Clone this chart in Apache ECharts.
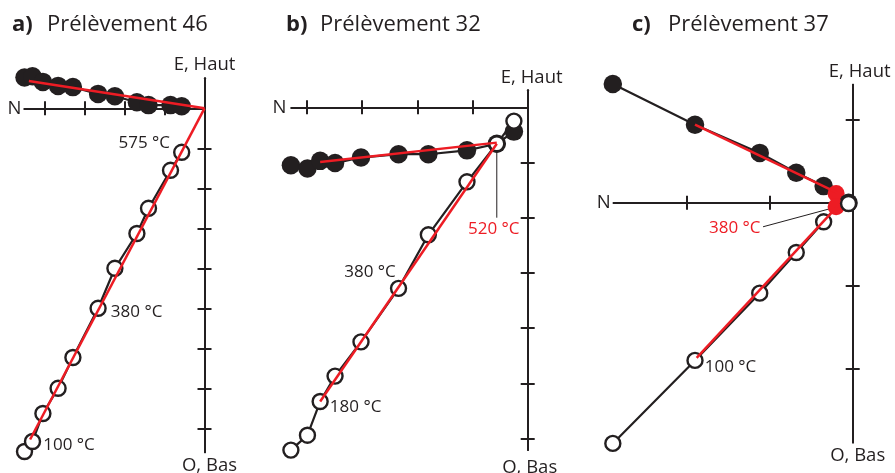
<!DOCTYPE html>
<html><head><meta charset="utf-8">
<script src="https://cdn.jsdelivr.net/npm/echarts@6/dist/echarts.min.js"></script>
<style>html,body{margin:0;padding:0;background:#fff}#c{width:895px;height:473px}</style>
</head><body><div id="c"></div>
<script>
// ---------- a) Prélèvement 46 ----------
const northA = [4.5, 4.3, 4.04, 3.66, 3.29, 2.66, 2.24, 1.69, 1.4, 0.85, 0.57];
const eastA  = [0.77, 0.8, 0.66, 0.56, 0.53, 0.36, 0.3, 0.15, 0.08, 0.08, 0.05];
const upA    = [-8.58, -8.33, -7.63, -7.0, -6.23, -5.0, -4.0, -3.13, -2.5, -1.55, -1.1];
const fitHA  = [[4.39, 0.68], [0, 0]];
const fitVA  = [[4.36, -8.28], [0, 0]];
const ticksXA = [1, 2, 3, 4];
const ticksYA = [-1, -2, -3, -4, -5, -6, -7, -8];
const tempIdxA = [1, 5, 10];
const tempTxtA = ['100 °C', '380 °C', '575 °C'];

// ---------- b) Prélèvement 32 ----------
const northB = [4.29, 3.99, 3.76, 3.49, 3.02, 2.34, 1.80, 1.10, 0.56, 0.25];
const eastB  = [-1.05, -1.11, -0.97, -1.01, -0.91, -0.85, -0.85, -0.78, -0.66, -0.44];
const upB    = [-6.21, -5.94, -5.33, -4.87, -4.25, -3.28, -2.31, -1.35, -0.66, -0.25];
const fitHB  = [[3.76, -0.99], [0.56, -0.64]];
const fitVB  = [[3.76, -5.33], [0.56, -0.66]];
const ticksXB = [1, 2, 3, 4];
const ticksYB = [-1, -2, -3, -4, -5, -6];
const tempIdxB = [2, 5];
const tempTxtB = ['180 °C', '380 °C'];
const leaderB = [[0.56, -0.66], [0.56, -2.0]];
const leaderTxtB = '520 °C';

// ---------- c) Prélèvement 37 ----------
const northC = [2.89, 1.90, 1.12, 0.68, 0.35, 0.20, 0.05];
const eastC  = [1.43, 0.94, 0.60, 0.36, 0.20, 0.11, 0.0];
const upC    = [-2.90, -1.90, -1.09, -0.60, -0.23, -0.05, -0.01];
const fitHC  = [[1.9, 0.94], [0.19, 0.12]];
const fitVC  = [[1.88, -1.87], [0.19, -0.05]];
const ticksXC = [1, 2];
const ticksYC = [1, -1, -2];
const tempIdxC = [1];
const tempTxtC = ['100 °C'];
const highlightC = 5;
const leaderC = [[0.19, -0.05], [1.08, -0.29]];
const leaderTxtC = '380 °C';

const titles = [['a)', 'Prélèvement 46'], ['b)', 'Prélèvement 32'], ['c)', 'Prélèvement 37']];

const BLACK = '#231f20', RED = '#ed1c24', FONT = '"Open Sans", sans-serif';

const panels = [
  {ox: 204.5, oy: 108.3, u: 40, xmax: 4.5, ymin: -8.6, ymax: 0.75,
   north: northA, east: eastA, up: upA, fitH: fitHA, fitV: fitVA, tx: ticksXA, ty: ticksYA,
   tIdx: tempIdxA, tTxt: tempTxtA,
   tPos: [['right', 2, [0, 3.9]], ['right', 4, [0, 3.6]], ['left', 3, [0, -9.4]]],
   nGap: 3, topGap: 4, botGap: 4, topPad: 0, botPad: 10,
   title: [12, 47]},
  {ox: 527.7, oy: 107.3, u: 55.2, xmax: 4.28, ymin: -6.21, ymax: 0.31,
   north: northB, east: eastB, up: upB, fitH: fitHB, fitV: fitVB, tx: ticksXB, ty: ticksYB,
   tIdx: tempIdxB, tTxt: tempTxtB,
   tPos: [['right', 1, [0, 5.4]], ['left', 5, [11, -16.2]]],
   leader: leaderB, leaderTxt: leaderTxtB, leaderPos: ['bottom', 2, [-3, 0]],
   nGap: 5, topGap: 3, botGap: 8, topPad: 8, botPad: 4,
   title: [286, 320]},
  {ox: 852.7, oy: 202.7, u: 83, xmax: 2.88, ymin: -2.89, ymax: 1.42,
   north: northC, east: eastC, up: upC, fitH: fitHC, fitV: fitVC, tx: ticksXC, ty: ticksYC,
   tIdx: tempIdxC, tTxt: tempTxtC,
   tPos: [['right', 1, [0, 6.6]]],
   leader: leaderC, leaderTxt: leaderTxtC, leaderPos: ['left', 2, [0, 1.6]],
   highlight: highlightC,
   nGap: 3, topGap: 4, botGap: 4, topPad: 14, botPad: 10,
   title: [632, 668]}
];

const grid = [], xAxis = [], yAxis = [], series = [], graphic = [];

panels.forEach((p, i) => {
  grid.push({left: p.ox - p.xmax * p.u, top: p.oy - p.ymax * p.u,
    width: p.xmax * p.u, height: (p.ymax - p.ymin) * p.u,
    containLabel: false, outerBoundsMode: 'none'});
  const axLine = (idx) => ({show: true, onZero: true, onZeroAxisIndex: idx,
    lineStyle: {color: BLACK, width: 2}});
  const tick = (vals) => ({show: true, customValues: vals, length: 7,
    lineStyle: {color: BLACK, width: 2}});
  const nameStyle = (pad) => ({fontFamily: FONT, fontSize: 18.5, color: BLACK, padding: pad});
  [0, 1].forEach(k => {
    xAxis.push({type: 'value', gridIndex: i, position: k ? 'top' : 'bottom', inverse: true,
      min: 0, max: p.xmax,
      name: k ? '' : 'N', nameLocation: 'end', nameGap: p.nGap,
      nameTextStyle: nameStyle([0, 0, 0, 0]),
      axisLine: axLine(2 * i), axisTick: tick(p.tx),
      axisLabel: {show: false}, splitLine: {show: false}});
    yAxis.push({type: 'value', gridIndex: i, position: k ? 'right' : 'left',
      min: p.ymin, max: p.ymax,
      name: k ? 'O, Bas' : 'E, Haut', nameLocation: k ? 'start' : 'end',
      nameGap: k ? p.botGap : p.topGap,
      nameTextStyle: nameStyle(k ? [0, 0, 0, p.botPad] : [0, 0, 0, p.topPad]),
      axisLine: axLine(2 * i), axisTick: tick(p.ty),
      axisLabel: {show: false}, splitLine: {show: false}});
  });
  const ax = {xAxisIndex: 2 * i, yAxisIndex: 2 * i};
  const lbl = (txt, pos, color) => ({show: true, formatter: txt, position: pos[0], distance: pos[1],
    offset: pos[2], fontFamily: FONT, fontSize: 17, color: color || BLACK});

  // leader line (under circles)
  if (p.leader) {
    series.push(Object.assign({type: 'line', z: 1, clip: false, silent: true,
      symbol: 'circle', symbolSize: 1, showSymbol: true,
      itemStyle: {color: 'rgba(0,0,0,0)'},
      lineStyle: {color: BLACK, width: 1},
      data: p.leader.map((v, j) => j === 1 ? {value: v, label: lbl(p.leaderTxt, p.leaderPos, RED)} : v)
    }, ax));
  }
  // horizontal projection (filled)
  series.push(Object.assign({type: 'line', z: 3, clip: false,
    symbol: 'circle', symbolSize: 18.5, showSymbol: true,
    itemStyle: {color: BLACK},
    lineStyle: {color: BLACK, width: 2.2},
    data: p.north.map((n, j) => j === p.highlight ?
      {value: [n, p.east[j]], symbolSize: 17, itemStyle: {color: RED}} : [n, p.east[j]])
  }, ax));
  // vertical projection (open)
  series.push(Object.assign({type: 'line', z: 4, clip: false,
    symbol: 'circle', symbolSize: 15, showSymbol: true,
    itemStyle: {color: '#fff', borderColor: BLACK, borderWidth: 2.4},
    lineStyle: {color: BLACK, width: 2.2},
    data: p.north.map((n, j) => {
      const item = {value: [n, p.up[j]]};
      const li = p.tIdx.indexOf(j);
      if (li >= 0) item.label = lbl(p.tTxt[li], p.tPos[li]);
      if (j === p.highlight) { item.symbolSize = 17; item.itemStyle = {color: RED, borderWidth: 0}; }
      return item;
    })
  }, ax));
  // red fits
  [p.fitH, p.fitV].forEach(f => series.push(Object.assign({type: 'line', z: 5, clip: false,
    showSymbol: false, symbol: 'none', silent: true,
    lineStyle: {color: RED, width: 2.5}, data: f}, ax)));

  graphic.push({type: 'text', x: p.title[0], y: 25, style: {text: titles[i][0],
    font: 'bold 22px ' + FONT, fill: BLACK, textVerticalAlign: 'middle'}});
  graphic.push({type: 'text', x: p.title[1], y: 25, style: {text: titles[i][1],
    font: '22px ' + FONT, fill: BLACK, textVerticalAlign: 'middle'}});
});

const chart = echarts.init(document.getElementById('c'), null, {renderer: 'canvas'});
chart.setOption({animation: false, backgroundColor: '#fff', grid, xAxis, yAxis, series, graphic});
</script></body></html>
